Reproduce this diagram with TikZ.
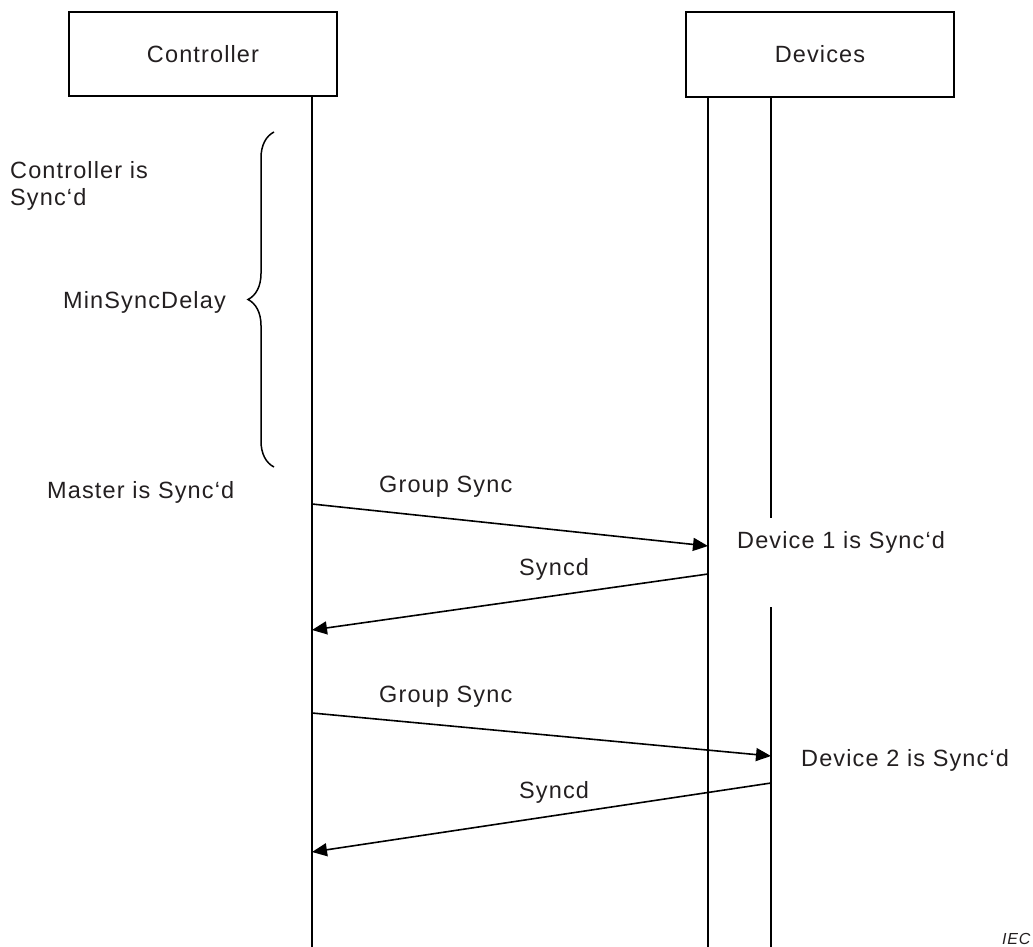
\documentclass[tikz,border=0pt]{standalone}
\usepackage{fontspec}
\setmainfont{Liberation Sans}[LetterSpace=4.8]
\usetikzlibrary{arrows.meta,decorations.pathreplacing}
\definecolor{ink}{RGB}{35,31,32}
\begin{document}
\begin{tikzpicture}[x=1pt,y=-1pt,
  every node/.style={text=ink, font=\fontsize{23.5}{27}\selectfont, inner sep=0pt},
  actor/.style={draw=black, line width=2.2pt, minimum width=268pt, minimum height=84pt},
  life/.style={draw=black, line width=2pt},
  msg/.style={draw=black, line width=1.6pt, -{Triangle[length=15pt,width=13pt]}},
  lbl/.style={anchor=base west}]
\useasboundingbox (0,0) rectangle (1033,947);

% participants
\node[actor] (ctrl) at (203,54) {Controller};
\node[actor, minimum height=85pt] (dev) at (820,54.5) {Devices};

% lifelines
\coordinate (cEnd) at (312,947);
\coordinate (d1End) at (708,947);
\coordinate (d2Stop) at (771,518);
\coordinate (d2Resume) at (771,607);
\coordinate (d2End) at (771,947);
\draw[life] (ctrl.south -| cEnd) -- (cEnd);
\draw[life] (dev.south -| d1End) -- (d1End);
\draw[life] (dev.south -| d2Stop) -- (d2Stop);
\draw[life] (d2Resume) -- (d2End);

% delay brace
\coordinate (brBot) at (274,467);
\coordinate (brTop) at (274,132);
\draw[line width=1.5pt, decorate, decoration={brace, amplitude=26pt}] (brBot) -- (brTop);

% side notes (base anchor of a two-line node sits on its last line)
\node[lbl, align=left] (ctrlSync) at (10,205) {Controller is\\Sync‘d};
\node[lbl] (minDelay) at (63,308) {MinSyncDelay};
\node[lbl] (masterSync) at (47,498) {Master is Sync‘d};
\node[lbl] (dev1Sync) at (737,548) {Device 1 is Sync‘d};
\node[lbl] (dev2Sync) at (801,766) {Device 2 is Sync‘d};

% message end points
\coordinate (m1s) at (312,504);
\coordinate (m1e) at (708,546);
\coordinate (m2s) at (708,574);
\coordinate (m2e) at (312,630);
\coordinate (m3s) at (312,713);
\coordinate (m3e) at (771,756);
\coordinate (m4s) at (771,783);
\coordinate (m4e) at (312,852);

% messages
\draw[msg] (m1s) -- (m1e);
\draw[msg] (m2s) -- (m2e);
\draw[msg] (m3s) -- (m3e);
\draw[msg] (m4s) -- (m4e);
\node[lbl] (m1lbl) at (379,492) {Group Sync};
\node[lbl] (m2lbl) at (519,575) {Syncd};
\node[lbl] (m3lbl) at (379,702) {Group Sync};
\node[lbl] (m4lbl) at (519,798) {Syncd};

% source mark
\node[lbl, font=\fontsize{16}{19}\selectfont\itshape] (iec) at (1002,944) {IEC};
\end{tikzpicture}
\end{document}
